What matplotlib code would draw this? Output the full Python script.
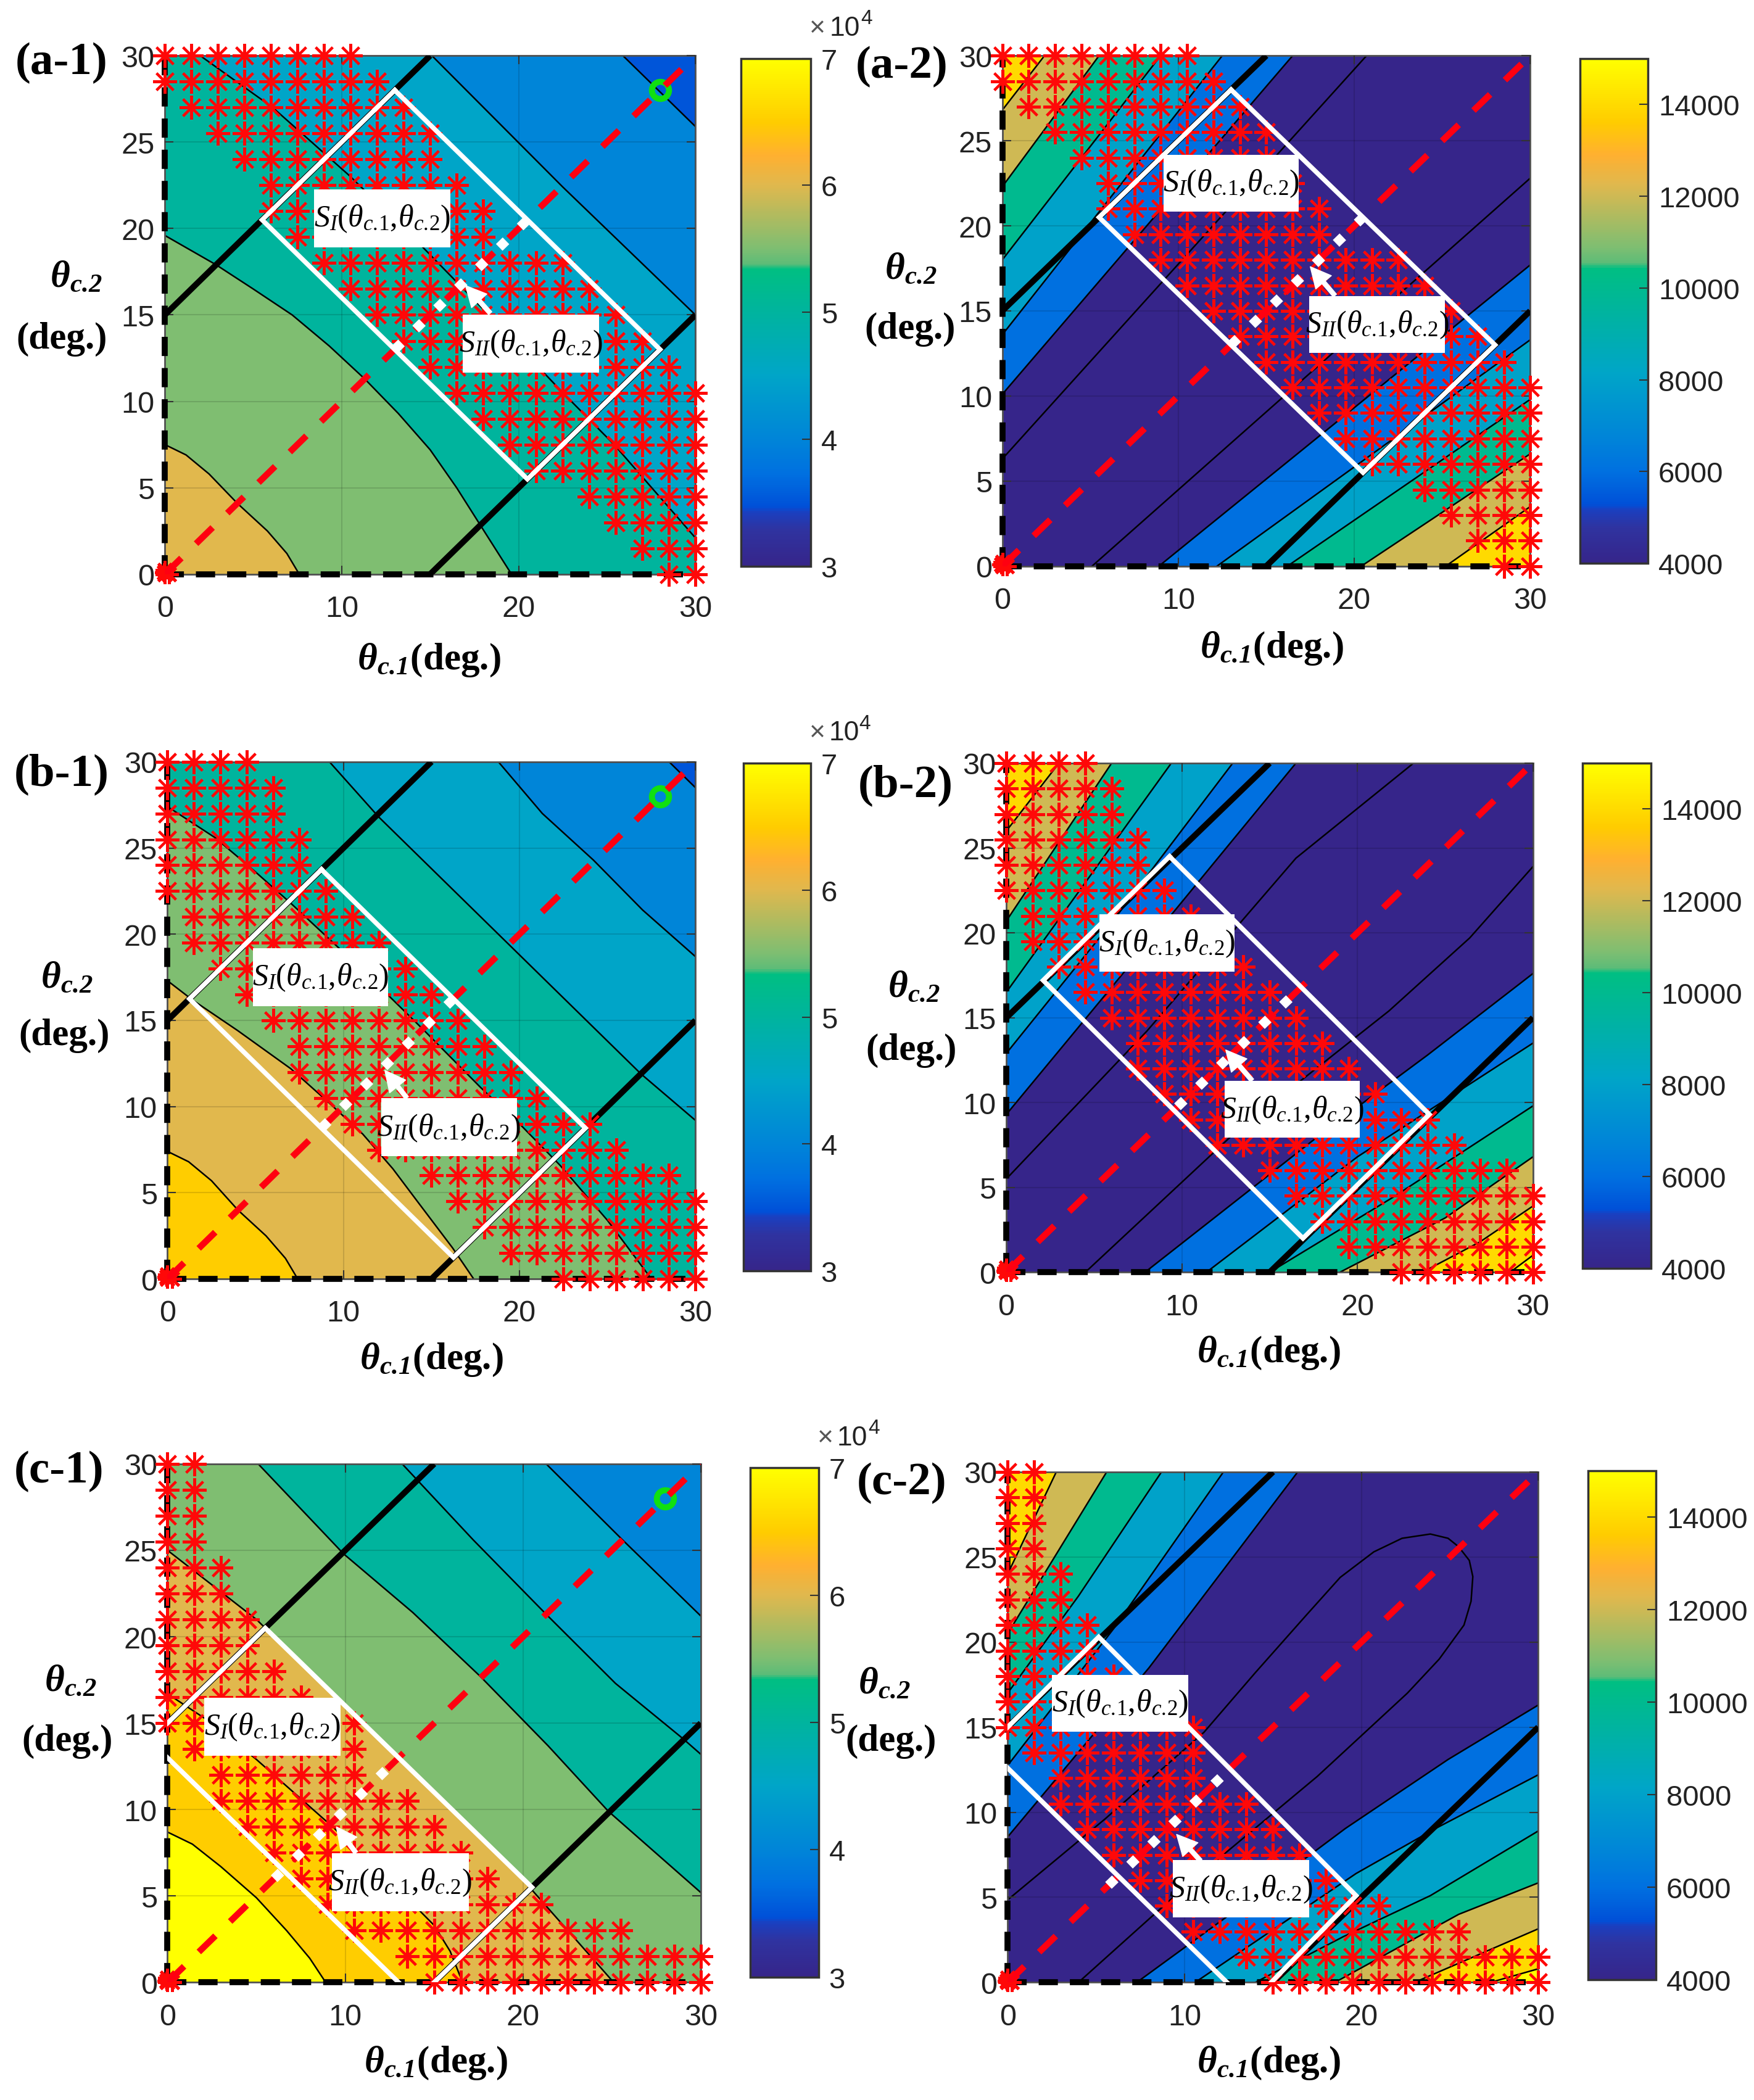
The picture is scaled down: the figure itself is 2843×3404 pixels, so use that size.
import matplotlib
matplotlib.use('Agg')
import matplotlib.pyplot as plt
from matplotlib.colors import LinearSegmentedColormap, Normalize
from matplotlib.cm import ScalarMappable
from matplotlib.patches import Rectangle

plt.rcParams['font.family'] = ['Liberation Serif', 'DejaVu Serif']
plt.rcParams['mathtext.fontset'] = 'custom'
plt.rcParams['mathtext.rm'] = 'Liberation Serif'
plt.rcParams['mathtext.it'] = 'Liberation Serif:italic'
plt.rcParams['mathtext.bf'] = 'Liberation Serif:italic:bold'

W, H = 2843, 3405
S = 2843 / 1309.0  # layout numbers below were read on the 1309 wide picture

# contour lines, level -> [(theta1, theta2), ...]
# left panels: the side towards the origin is above that level
a1_lines = {
    4.0: [(25.9, 30), (30, 25.9)],
    4.5: [(15.1, 30), (22.5, 22.4), (30, 15)],
    5.0: [(2, 30), (6.1, 27), (10.5, 23), (14.6, 18.9), (18.7, 14.6), (22.5, 10.5), (25.4, 7.5), (30, 2.1)],
    5.5: [(0, 19.6), (2.9, 17.9), (5, 16.5), (7.2, 15), (9.3, 13.2), (11.3, 11.3), (13.2, 9.3), (15, 7.2),
          (16.5, 5), (17.8, 2.9), (19.6, 0)],
    6.0: [(0, 7.5), (1.2, 6.9), (2.5, 5.8), (4.1, 4.1), (5.8, 2.5), (6.9, 1.2), (7.6, 0)],
}
b1_lines = {
    4.0: [(28.5, 30), (30, 28.5)],
    4.5: [(18.8, 30), (21.3, 27), (24.2, 24.3), (27, 21.4), (30, 18.7)],
    5.0: [(9.2, 30), (12, 26.8), (19.5, 19.3), (26.9, 11.9), (30, 9.2)],
    5.5: [(0, 27.4), (2.7, 25.6), (4.9, 23.7), (7, 21.8), (9, 19.9), (11.1, 17.9), (14.5, 14.5), (17.8, 11.1),
          (20.1, 8.9), (22.3, 6.6), (25, 3.4), (27.5, 0)],
    6.0: [(0, 17.3), (1.4, 16.2), (4, 14.4), (7, 12.2), (9.2, 10.2), (11.1, 8.4), (12.8, 6.4), (14.2, 4.5),
          (16.2, 1.8), (17.4, 0)],
    6.5: [(0, 7.4), (1.2, 6.8), (2.5, 5.7), (4, 4), (5.6, 2.5), (6.7, 1.2), (7.4, 0)],
}
c1_lines = {
    4.5: [(21.3, 30), (25.6, 25.6), (30, 21.2)],
    5.0: [(13.2, 30), (17.2, 25.6), (21.3, 21.3), (25.2, 17.3), (29, 14.1), (30, 13.2)],
    5.5: [(5.1, 30), (9.9, 24.8), (13.8, 21.4), (17.6, 17.7), (21.4, 13.7), (24.8, 9.9), (30, 5.2)],
    6.0: [(0, 25), (5, 21), (9, 17), (13.2, 12.9), (17, 9), (20.2, 5.7), (25.1, 0)],
    6.5: [(0, 16.7), (2.5, 15), (5, 12.9), (7.2, 10.9), (9.4, 8.9), (11, 7.2), (12.5, 5.9), (15, 3.3), (15.9, 1.8),
          (16.6, 0)],
    7.0: [(0, 8.7), (1.4, 8), (3, 6.7), (5, 4.9), (6.7, 3), (8, 1.4), (8.9, 0)],
}
# right panels: upper left family runs from the left edge to the top edge,
# lower right family from the bottom edge to the right edge
a2_upper = {
    4000: [(0, 6.3), (20.7, 30)],
    6000: [(0, 10.1), (16.5, 30)],
    8000: [(0, 13.6), (12.5, 30)],
    10000: [(0, 18), (9, 30)],
    12000: [(0, 22.3), (5.5, 30)],
    14000: [(0, 26.8), (2.4, 30)],
}
a2_lower = {
    4000: [(5.1, 0), (30, 22.8)],
    6000: [(8.9, 0), (30, 17.7)],
    8000: [(12.2, 0), (30, 13.3)],
    10000: [(16.2, 0), (30, 9.8)],
    12000: [(20.4, 0), (30, 6.6)],
    14000: [(25.2, 0), (30, 3.5)],
}
b2_upper = {
    4000: [(0, 5.5), (8, 14.2), (16.5, 24.4), (23.2, 30)],
    6000: [(0, 9.3), (8, 19.3), (16.5, 30)],
    8000: [(0, 12.9), (6, 20.6), (12.9, 30)],
    10000: [(0, 16.5), (9.4, 30)],
    12000: [(0, 20.7), (6, 30)],
    14000: [(0, 26), (3, 30)],
}
b2_lower = {
    4000: [(4.5, 0), (13, 8.2), (21.8, 15.4), (26.4, 19.7), (30, 23.9)],
    6000: [(7.9, 0), (18, 8.2), (24, 12.8), (30, 17.6)],
    8000: [(11.4, 0), (20, 6.8), (30, 13.5)],
    10000: [(15, 0), (22, 4.4), (30, 9.8)],
    12000: [(19, 0), (25, 3.2), (30, 6.8)],
    14000: [(23.7, 0), (27, 1.8), (30, 3.9)],
    16000: [(28.7, 0), (30, 1)],
}
c2_upper = {
    6000: [(0, 8.55), (8, 18.5), (16.4, 30)],
    8000: [(0, 12.75), (6, 20.8), (12.2, 30)],
    10000: [(0, 17), (4, 22.7), (8.7, 30)],
    12000: [(0, 20.5), (5.6, 30)],
    14000: [(0, 24), (2.75, 30)],
}
c2_lower = {
    6000: [(7.3, 0), (13.5, 4.7), (19.1, 9.05), (24.9, 13.1), (30, 16.3)],
    8000: [(10.6, 0), (19.7, 6.4), (24.2, 9.05), (30, 12.2)],
    10000: [(14, 0), (19, 2.7), (23.9, 5.1), (30, 8.9)],
    12000: [(18.5, 0), (25.5, 4), (30, 5.85)],
    14000: [(23, 0), (27, 1.8), (30, 3.15)],
    16000: [(27.3, 0), (30, 0.8)],
}
# thin line inside the dark region of c-2
c2_inner = [(0, 4.85), (5.5, 9.6), (11.1, 14.7), (14, 18.2), (16.9, 21.6), (18.8, 23.8), (20.7, 25.3), (22.3, 26.1),
            (23.9, 26.35), (24.9, 26.1), (25.5, 25.6), (26.1, 24.8), (26.3, 23.85), (26.2, 22.4), (25.8, 21),
            (24.4, 19), (22.6, 17), (20, 14.5), (17.5, 12.1), (10, 5.6), (4, 0)]

left_ticks = [3, 4, 5, 6, 7]
right_ticks = [4000, 6000, 8000, 10000, 12000, 14000]
x_ticks = [0, 10, 20, 30]
y_ticks = [0, 5, 10, 15, 20, 25, 30]

# red stars, one row per theta2 from 30 down to 0 in steps of 1.5, first/last index of theta1 = 1.5*i
a_star_from = [0, 0, 1, 2, 3, 4, 4, 5, 6, 7, 8, 9, 10, 11, 12, 13, 14, 16, 17, 18, 19]
a_star_to = [7, 8, 9, 10, 10, 11, 12, 12, 15, 16, 17, 18, 19, 20, 20, 20, 20, 20, 20, 20, 20]
b_star_from = [0, 0, 0, 0, 0, 0, 1, 1, 2, 3, 4, 5, 5, 6, 7, 8, 10, 11, 12, 13, 15]
b_star_to = [3, 4, 4, 5, 5, 6, 7, 8, 9, 10, 11, 12, 13, 14, 16, 17, 19, 20, 20, 20, 20]
c_star_from = [0, 0, 0, 0, 0, 0, 0, 0, 0, 0, 0, 1, 2, 2, 3, 4, 5, 6, 7, 9, 10]
c_star_to = [1, 1, 1, 1, 2, 2, 3, 3, 4, 5, 7, 7, 7, 9, 10, 11, 12, 14, 17, 20, 20]
origin_x = [0, 0.25, 0, -0.05]
origin_y = [0, 0, 0.25, 0.1]

# white region outlines
a_box = [(13, 28), (28, 13), (20.5, 5.5), (5.5, 20.5), (13, 28)]
b1_box = [(8.75, 23.75), (23.75, 8.75), (16.25, 1.25), (1.25, 16.25), (8.75, 23.75)]
b2_box = [(9.3, 24.5), (24.1, 9.3), (16.9, 2), (2.1, 17.2), (9.3, 24.5)]
c1_box = [(0, 15), (5.5, 20.5), (20.5, 5.5), (15, 0)]
c1_box2 = [(0, 13), (13, 0)]
c2_box = [(0, 15), (5.15, 20.3), (19.7, 5.1), (14.9, 0)]
c2_box2 = [(0, 12.6), (12.4, 0)]
a_dots = [13, 20.5]
b1_dots = [8.75, 16.25]
b2_dots = [9.75, 16.75]
c1_dots = [6, 13]
c2_dots = [5.7, 12.5]

cmap = LinearSegmentedColormap.from_list('parula_like', [
    (0.0, '#36258A'), (0.07, '#2F33A0'), (0.105, '#1A3FC0'), (0.115, '#0050D8'), (0.18, '#0070E0'),
    (0.25, '#0085D8'), (0.375, '#00A5C8'), (0.5, '#00B49E'), (0.585, '#00BF82'), (0.595, '#5CBC78'),
    (0.625, '#7DBE72'), (0.75, '#DFB84E'), (0.81, '#FFB030'), (0.875, '#FFCC00'), (1.0, '#FFFF00')], N=256)


def px_axes(fig, x0, y0, x1, y1):
    return fig.add_axes([x0 * S / W, 1 - y1 * S / H, (x1 - x0) * S / W, (y1 - y0) * S / H])


def fill_band(ax, pts, extra, color):
    xs = [q[0] for q in pts] + [q[0] for q in extra]
    ys = [q[1] for q in pts] + [q[1] for q in extra]
    ax.fill(xs, ys, color=color, lw=0, zorder=1)


def draw_line(ax, pts):
    ax.plot([q[0] for q in pts], [q[1] for q in pts], color='k', lw=1.8, zorder=2)


def draw_panel(fig, p):
    ax = px_axes(fig, *p['ax'])
    left = p['kind'] == 'left'
    norm = Normalize(3, 7, clip=True) if left else Normalize(4000, 15000, clip=True)

    if left:
        levels = sorted(p['lines'])
        ax.set_facecolor(cmap(norm(levels[0] - 0.5)))
        for lev in levels:
            pts = p['lines'][lev]
            extra = []
            if pts[-1][0] == 30:
                extra.append((30, 0))
            extra.append((0, 0))
            if pts[0][1] == 30:
                extra.append((0, 30))
            fill_band(ax, pts, extra, cmap(norm(lev)))
            draw_line(ax, pts)
    else:
        ax.set_facecolor(cmap(0.0))
        for lev in sorted(p['upper']):
            fill_band(ax, p['upper'][lev], [(0, 30)], cmap(norm(lev)))
            draw_line(ax, p['upper'][lev])
        for lev in sorted(p['lower']):
            fill_band(ax, p['lower'][lev], [(30, 0)], cmap(norm(lev)))
            draw_line(ax, p['lower'][lev])
        if 'inner' in p:
            draw_line(ax, p['inner'])

    ax.set_xlim(0, 30)
    ax.set_ylim(0, 30)
    ax.set_xticks(x_ticks)
    ax.set_yticks(y_ticks)
    ax.grid(True, color='k', alpha=0.13, lw=1.5, zorder=3)
    ax.set_axisbelow(False)
    ax.tick_params(direction='in', top=True, right=True, length=10, width=1.5, color='#333333',
                   labelsize=35, pad=12)
    ax.tick_params(axis='x', pad=24)
    for t in ax.get_xticklabels() + ax.get_yticklabels():
        t.set_family('Liberation Sans')
        t.set_color('#222222')
    for sp in ax.spines.values():
        sp.set_color('#555555')
        sp.set_linewidth(2)

    # thick black limits and the axis dashes
    ax.plot([0, 15], [15, 30], color='k', lw=7, solid_capstyle='butt', zorder=4)
    ax.plot([15, 30], [0, 15], color='k', lw=7, solid_capstyle='butt', zorder=4)
    ax.plot([0, 0], [0, 30], color='k', lw=7, ls=(0, (3.2, 2)), clip_on=False, zorder=4)
    ax.plot([0, 30], [0, 0], color='k', lw=7, ls=(0, (3.2, 2)), clip_on=False, zorder=4)

    # star rows
    sx, sy = [], []
    for row, (i0, i1) in enumerate(zip(p['from'], p['to'])):
        for i in range(i0, i1 + 1):
            sx.append(1.5 * i)
            sy.append(30 - 1.5 * row)
    ax.plot(sx, sy, ls='none', marker=(8, 2, 0), ms=28, mew=2.9, color='#FF0808', clip_on=False, zorder=5)
    ax.plot(origin_x, origin_y, ls='none', marker=(8, 2, 0), ms=22, mew=3.5, color='#FF0808', clip_on=False, zorder=5)

    if left:
        ax.plot([28], [28], ls='none', marker='o', ms=20, mfc='none', mec='#10E010', mew=7, zorder=6)
    ax.plot([0, 30], [0, 30], color='#FF0010', lw=7.5, ls=(0, (3.6, 3.2)), zorder=7)

    for line in p['box']:
        bx, by = zip(*line)
        ax.plot(bx, by, color='w', lw=5.5, solid_joinstyle='miter', zorder=8)
    d = p['dots']
    ax.plot(d, d, color='w', lw=11, ls=(0, (1, 2.1)), zorder=9)

    ax.annotate('', xy=p['arrow'][0], xytext=p['arrow'][1], zorder=10,
                arrowprops=dict(fc='w', ec='w', width=5, headwidth=24, headlength=24, shrink=0))
    for pos, sub in ((p['s1'], 'I'), (p['s2'], 'II')):
        ax.add_patch(Rectangle((pos[0] - 3.85, pos[1] - 1.68), 7.7, 3.36, fc='w', ec='none', zorder=11))
        ax.text(pos[0], pos[1], r'$S_{%s}(\theta_{c.\!1},\!\theta_{c.\!2})$' % sub, fontsize=36,
                ha='center', va='center', zorder=12)

    # labels live in figure space
    fig.text(p['xl'][0] * S / W, 1 - p['xl'][1] * S / H, r'$\mathbf{\theta}_{\mathbf{c.\!1}}$(deg.)', fontsize=44,
             weight='bold', ha='center', va='center')
    fig.text(p['yl'][0] * S / W, 1 - p['yl'][1] * S / H, r'$\mathbf{\theta}_{\mathbf{c.\!2}}$', fontsize=44,
             weight='bold', ha='center', va='center')
    fig.text(p['yd'][0] * S / W, 1 - p['yd'][1] * S / H, '(deg.)', fontsize=44, weight='bold', ha='center', va='center')
    fig.text(p['tag'][0] * S / W, 1 - p['tag'][1] * S / H, p['name'], fontsize=54, weight='bold', ha='center', va='center')

    # colorbar
    cax = px_axes(fig, *p['cb'])
    cb = fig.colorbar(ScalarMappable(norm=norm, cmap=cmap), cax=cax)
    cb.set_ticks(left_ticks if left else right_ticks)
    cax.tick_params(direction='in', length=10, width=1.5, color='#333333', labelsize=34, pad=12)
    for t in cax.get_yticklabels():
        t.set_family('Liberation Sans')
        t.set_color('#222222')
    cb.outline.set_edgecolor('#333333')
    cb.outline.set_linewidth(2.5)
    if left:
        cax.text(0.98, 1.035, '\u00d7', transform=cax.transAxes, fontsize=32, family='Liberation Sans', color='#555555',
                 ha='left', va='bottom')
        cax.text(1.27, 1.035, '10', transform=cax.transAxes, fontsize=32, family='Liberation Sans', color='#222222',
                 ha='left', va='bottom')
        cax.text(1.72, 1.06, '4', transform=cax.transAxes, fontsize=24, family='Liberation Sans', color='#222222',
                 ha='left', va='bottom')


panels = [
    dict(name='(a-1)', kind='left', lines=a1_lines, ax=(123, 42, 519, 429), cb=(553, 44, 605, 423),
         box=[a_box], dots=a_dots, s1=(12.3, 20.6), s2=(20.7, 13.35), arrow=((17, 16.7), (18.4, 15.1)),
         xl=(320, 493), yl=(57, 207), yd=(46, 253), tag=(46, 47)),
    dict(name='(a-2)', kind='right', upper=a2_upper, lower=a2_lower, ax=(748, 42, 1142, 423), cb=(1179, 44, 1230, 421),
         box=[a_box], dots=a_dots, s1=(13.0, 22.5), s2=(21.3, 14.2), arrow=((17.5, 17.6), (18.9, 15.9)),
         xl=(949, 484), yl=(680, 201), yd=(679, 246), tag=(673, 50)),
    dict(name='(b-1)', kind='left', lines=b1_lines, ax=(125, 569, 519, 955), cb=(555, 570, 605, 949),
         box=[b1_box], dots=b1_dots, s1=(8.7, 17.5), s2=(16, 8.8), arrow=((12.35, 12.1), (13.6, 10.5)),
         xl=(322, 1015), yl=(50, 730), yd=(48, 773), tag=(46, 578)),
    dict(name='(b-2)', kind='right', upper=b2_upper, lower=b2_lower, ax=(751, 570, 1144, 950), cb=(1181, 570, 1232, 947),
         box=[b2_box], dots=b2_dots, s1=(9.15, 19.4), s2=(16.3, 9.6), arrow=((12.5, 13.1), (14, 11.3)),
         xl=(947, 1010), yl=(682, 737), yd=(680, 784), tag=(676, 586)),
    dict(name='(c-1)', kind='left', lines=c1_lines, ax=(125, 1093, 523, 1480), cb=(560, 1096, 611, 1476),
         box=[c1_box, c1_box2], dots=c1_dots, s1=(5.9, 14.8), s2=(13.1, 5.8), arrow=((9.5, 9), (10.6, 7.5)),
         xl=(325, 1540), yl=(53, 1255), yd=(50, 1300), tag=(44, 1098)),
    dict(name='(c-2)', kind='right', upper=c2_upper, lower=c2_lower, inner=c2_inner, ax=(752, 1099, 1148, 1480),
         cb=(1185, 1098, 1236, 1478),
         box=[c2_box, c2_box2], dots=c2_dots, s1=(6.35, 16.4), s2=(13.2, 5.5), arrow=((9.55, 8.7), (10.9, 7.15)),
         xl=(947, 1540), yl=(660, 1257), yd=(665, 1300), tag=(673, 1107)),
]
for p, fr, to in zip(panels, [a_star_from, a_star_from, b_star_from, b_star_from, c_star_from, c_star_from],
                     [a_star_to, a_star_to, b_star_to, b_star_to, c_star_to, c_star_to]):
    p['from'] = fr
    p['to'] = to

fig = plt.figure(figsize=(W / 100, H / 100), dpi=100, facecolor='w')
for p in panels:
    draw_panel(fig, p)
fig.savefig('out.png', dpi=100, facecolor='w')
